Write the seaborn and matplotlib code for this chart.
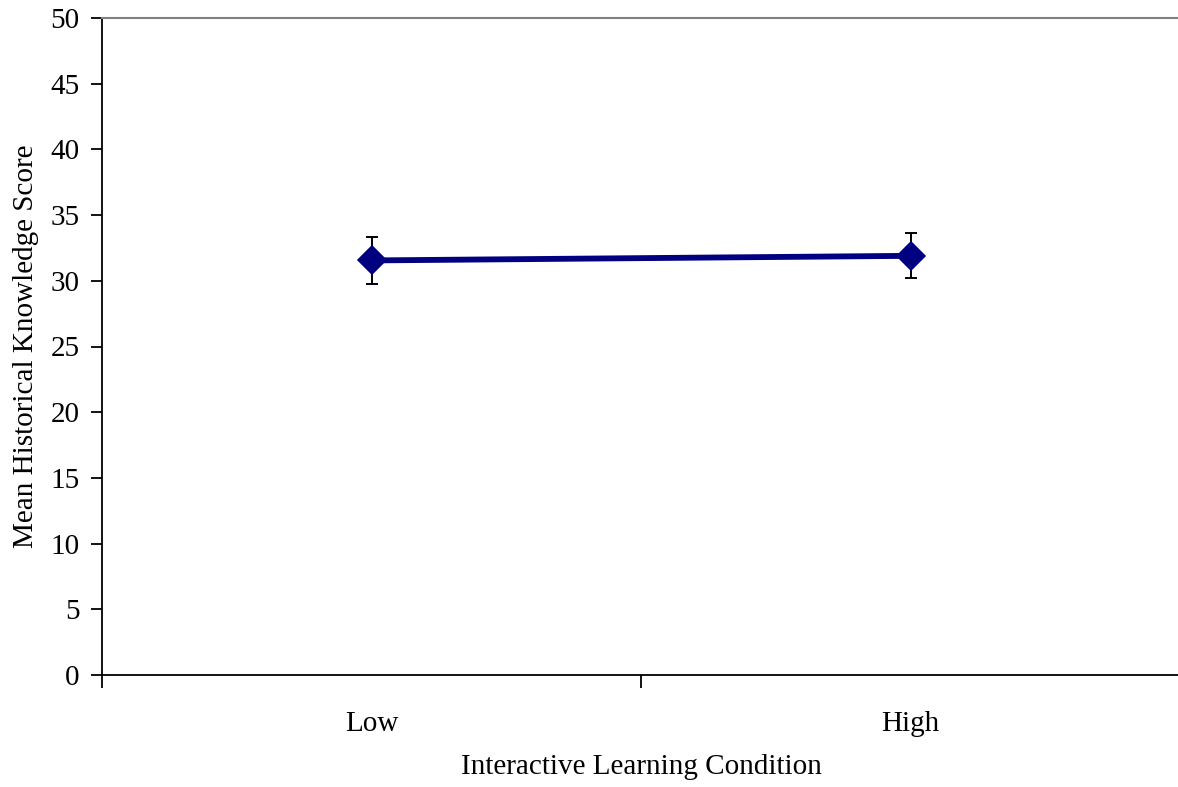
import matplotlib
matplotlib.use("Agg")
import matplotlib.pyplot as plt
import seaborn as sns
import pandas as pd
import numpy as np

categories = ["Low", "High"]
means = [31.55, 31.9]
errors = [1.77, 1.72]

sns.set_style("white")
plt.rcParams['font.family'] = ['Liberation Serif', 'DejaVu Serif']
plt.rcParams['text.color'] = 'black'
plt.rcParams['axes.labelcolor'] = 'black'
plt.rcParams['xtick.color'] = 'black'
plt.rcParams['ytick.color'] = 'black'

fig = plt.figure(figsize=(11.78, 7.87), dpi=100)
ax = fig.add_axes([102/1178, (787-675)/787, (1180-102)/1178, (675-18)/787])

df = pd.DataFrame({"cond": categories, "score": means})
xpos = np.arange(len(categories))
ax.errorbar(xpos, means, yerr=errors, fmt="none", ecolor="black",
            elinewidth=1.4, capsize=4, capthick=1.4, zorder=2)
sns.pointplot(data=df, x="cond", y="score", order=categories, color="#000080",
              markers="D", markersize=12.5, linewidth=4.2, errorbar=None, ax=ax,
              zorder=3)

ax.set_ylim(0, 50)
ax.set_yticks(range(0, 51, 5))
ax.set_xlim(-0.5, 1.5)
ax.set_xticks(xpos)
ax.set_xticklabels(categories)
ax.set_xticks([-0.5, 0.5, 1.5], minor=True)
ax.tick_params(axis="x", which="major", bottom=False, length=0, pad=26, labelsize=21)
ax.tick_params(axis="x", which="minor", bottom=True, length=9, width=1.3, color="black", direction="out")
ax.tick_params(axis="y", left=True, length=8, width=1.3, color="black", direction="out", pad=8, labelsize=21)
ax.set_xlabel("Interactive Learning Condition", fontsize=21, labelpad=12)
ax.set_ylabel("Mean Historical Knowledge Score", fontsize=21, labelpad=8)

for s in ["left", "bottom"]:
    ax.spines[s].set_color("black")
    ax.spines[s].set_linewidth(1.3)
ax.spines["top"].set_color("#808080")
ax.spines["top"].set_linewidth(1.5)
ax.spines["right"].set_visible(False)
ax.grid(False)

fig.savefig("out.png", dpi=100)
